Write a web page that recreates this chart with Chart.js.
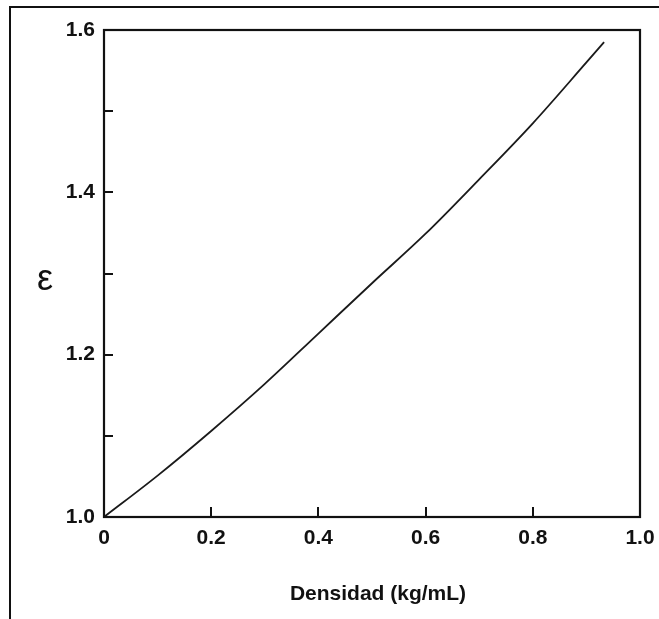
<!DOCTYPE html>
<html>
<head>
<meta charset="utf-8">
<script src="https://cdn.jsdelivr.net/npm/chart.js@4.4.1/dist/chart.umd.min.js"></script>
<style>
  html, body { margin: 0; padding: 0; background: #fff; }
  #wrap { position: relative; width: 659px; height: 619px; overflow: hidden; }
  #frame { position: absolute; left: 9px; top: 6px; right: -10px; bottom: -10px;
           border-top: 2px solid #111; border-left: 2px solid #111; }
  canvas { position: absolute; left: 0; top: 0; }
</style>
</head>
<body>
<div id="wrap">
  <div id="frame"></div>
  <canvas id="chart" width="659" height="619"></canvas>
</div>
<script>
// density (kg/mL) vs dielectric constant
const densidad = [0, 0.1, 0.2, 0.3, 0.4, 0.5, 0.6, 0.7, 0.8, 0.9, 0.933];
const epsilon  = [1.000, 1.051, 1.106, 1.164, 1.226, 1.288, 1.349, 1.416, 1.485, 1.560, 1.585];

const xTicks = [0, 0.2, 0.4, 0.6, 0.8, 1.0];
const yTicks = [1.0, 1.1, 1.2, 1.3, 1.4, 1.5, 1.6];
const yLabeled = [1.0, 1.2, 1.4, 1.6];

const xTitle = 'Densidad (kg/mL)';
const yTitle = 'ε';

const points = densidad.map((d, i) => ({ x: d, y: epsilon[i] }));

const tickFont = { family: '"Liberation Sans", Arial, sans-serif', size: 21, weight: 'bold' };

const boxPlugin = {
  id: 'box',
  afterDatasetsDraw(chart) {
    const { ctx, chartArea: a, scales } = chart;
    ctx.save();
    ctx.strokeStyle = '#111';
    ctx.lineWidth = 2.2;
    ctx.strokeRect(a.left, a.top, a.right - a.left, a.bottom - a.top);
    // inward tick marks
    ctx.lineWidth = 2;
    ctx.beginPath();
    yTicks.slice(1, -1).forEach(v => {
      const y = Math.round(scales.y.getPixelForValue(v));
      ctx.moveTo(a.left, y);
      ctx.lineTo(a.left + 9, y);
    });
    xTicks.slice(1, -1).forEach(v => {
      const x = Math.round(scales.x.getPixelForValue(v));
      ctx.moveTo(x, a.bottom);
      ctx.lineTo(x, a.bottom - 10);
    });
    ctx.stroke();
    // axis titles
    ctx.fillStyle = '#111';
    ctx.textAlign = 'center';
    ctx.textBaseline = 'middle';
    ctx.font = 'bold 21px "Liberation Sans", Arial, sans-serif';
    ctx.fillText(xTitle, (a.left + a.right) / 2 + 6, 594);
    ctx.font = '36px "Liberation Sans", Arial, sans-serif';
    ctx.fillText(yTitle, 45, 280);
    ctx.restore();
  }
};

new Chart(document.getElementById('chart'), {
  type: 'scatter',
  data: {
    datasets: [{
      data: points,
      showLine: true,
      borderColor: '#1a1a1a',
      borderWidth: 1.8,
      pointRadius: 0,
      cubicInterpolationMode: 'monotone',
      fill: false
    }]
  },
  options: {
    responsive: false,
    animation: false,
    layout: { padding: { left: 0, top: 30, right: 0, bottom: 0 } },
    plugins: { legend: { display: false }, tooltip: { enabled: false } },
    scales: {
      x: {
        type: 'linear',
        min: 0, max: 1,
        afterFit(s) { s.height = 102; s.paddingRight = 19; },
        afterBuildTicks(s) { s.ticks = xTicks.map(v => ({ value: v })); },
        grid: { display: false, drawTicks: false },
        border: { display: false },
        ticks: {
          padding: 9,
          color: '#111',
          font: tickFont,
          callback: v => v === 0 ? '0' : v.toFixed(1)
        }
      },
      y: {
        min: 1.0, max: 1.6,
        afterFit(s) { s.width = 104; },
        afterBuildTicks(s) { s.ticks = yTicks.map(v => ({ value: v })); },
        grid: { display: false, drawTicks: false },
        border: { display: false },
        ticks: {
          padding: 9,
          color: '#111',
          font: tickFont,
          callback: v => yLabeled.some(l => Math.abs(l - v) < 1e-6) ? v.toFixed(1) : ''
        }
      }
    }
  },
  plugins: [boxPlugin]
});
</script>
</body>
</html>
